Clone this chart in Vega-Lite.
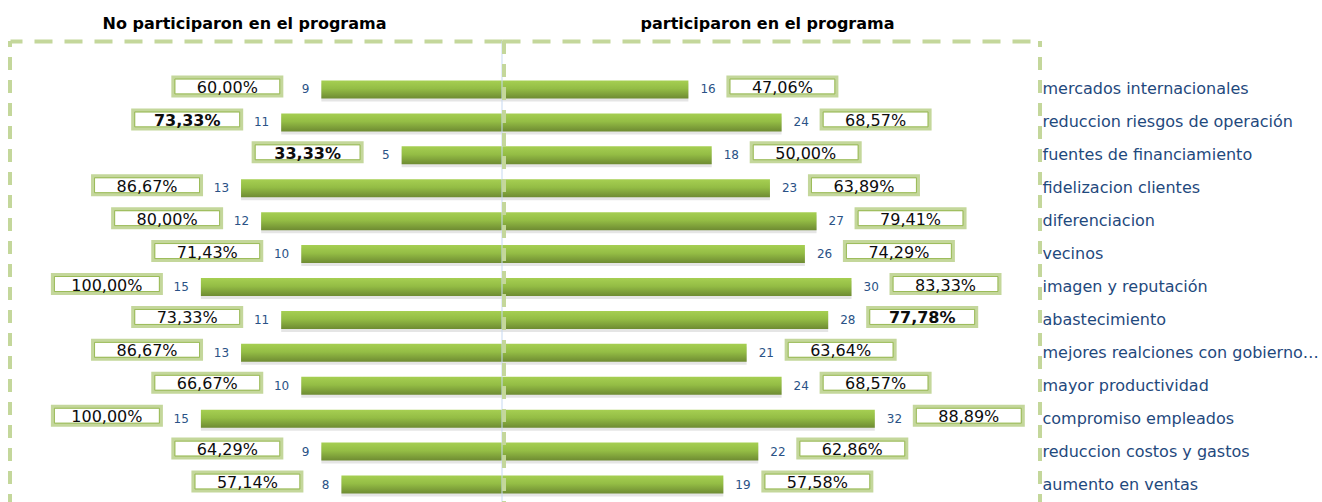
{
  "$schema": "https://vega.github.io/schema/vega-lite/v6.json",
  "width": 1030,
  "height": 461,
  "autosize": {"type": "none"},
  "padding": {"left": 10, "top": 41, "right": 282, "bottom": 0},
  "background": "white",
  "config": {
    "locale": {"number": {"decimal": ",", "thousands": ".", "grouping": [3], "currency": ["", " €"]}},
    "view": {"stroke": null},
    "axis": {"grid": false}
  },
  "data": {
    "values": [
      {"cat": "mercados internacionales", "no": 9, "si": 16, "pno": 0.6, "psi": 0.4706},
      {"cat": "reduccion riesgos de operación", "no": 11, "si": 24, "pno": 0.7333, "psi": 0.6857},
      {"cat": "fuentes de financiamiento", "no": 5, "si": 18, "pno": 0.3333, "psi": 0.5},
      {"cat": "fidelizacion clientes", "no": 13, "si": 23, "pno": 0.8667, "psi": 0.6389},
      {"cat": "diferenciacion", "no": 12, "si": 27, "pno": 0.8, "psi": 0.7941},
      {"cat": "vecinos", "no": 10, "si": 26, "pno": 0.7143, "psi": 0.7429},
      {"cat": "imagen y reputación", "no": 15, "si": 30, "pno": 1, "psi": 0.8333},
      {"cat": "abastecimiento", "no": 11, "si": 28, "pno": 0.7333, "psi": 0.7778},
      {"cat": "mejores realciones con gobierno…", "no": 13, "si": 21, "pno": 0.8667, "psi": 0.6364},
      {"cat": "mayor productividad", "no": 10, "si": 24, "pno": 0.6667, "psi": 0.6857},
      {"cat": "compromiso empleados", "no": 15, "si": 32, "pno": 1, "psi": 0.8889},
      {"cat": "reduccion costos y gastos", "no": 9, "si": 22, "pno": 0.6429, "psi": 0.6286},
      {"cat": "aumento en ventas", "no": 8, "si": 19, "pno": 0.5714, "psi": 0.5758}
    ]
  },
  "layer": [
    {
      "encoding": {
        "x": {
          "field": "no", "type": "quantitative",
          "scale": {"domain": [0, 24.51], "range": [492, 0], "nice": false},
          "axis": {"orient": "top", "title": "No participaron en el programa", "labels": false, "ticks": false, "grid": false,
                   "domain": true, "domainColor": "#c4d79b", "domainWidth": 4, "domainDash": [18, 12],
                   "titleFont": "DejaVu Sans", "titleFontSize": 16, "titleFontWeight": "bold", "titleColor": "#000000", "titlePadding": 10, "titleX": 234}
        }
      },
      "layer": [
        {
          "data": {"values": [{"no": 24.51}]},
          "mark": {"type": "rule", "color": "#c4d79b", "strokeWidth": 4, "strokeDash": [13, 10], "strokeDashOffset": 7}
        },
        {
          "encoding": {
            "y": {
              "field": "cat", "type": "nominal", "sort": null,
              "scale": {"range": [32, 460], "paddingInner": 0, "paddingOuter": 0},
              "axis": {"orient": "right", "title": null, "domain": false, "ticks": false, "tickSize": 0, "labelPadding": 2,
                       "labelFont": "DejaVu Sans", "labelFontSize": 16, "labelColor": "#1f497d", "labelLimit": 400, "labelAlign": "left", "labelBaseline": "middle"}
            }
          },
          "layer": [
            {"mark": {"type": "bar", "size": 18, "color": "#000000", "opacity": 0.1, "yOffset": 3}},
            {"mark": {"type": "bar", "size": 18, "color": {"gradient": "linear", "x1": 0, "y1": 0, "x2": 0, "y2": 1,
              "stops": [{"offset": 0, "color": "#a6cf52"}, {"offset": 0.45, "color": "#94bd45"}, {"offset": 1, "color": "#6e8b32"}]}}},
            {"mark": {"type": "bar", "size": 18, "fill": "#ffffff", "stroke": "#c4d79b", "strokeWidth": 4, "xOffset": -148, "x2Offset": -40, "yOffset": -3},
             "encoding": {"x2": {"field": "no"}}},
            {"mark": {"type": "bar", "size": 15, "fill": "#ffffff", "fillOpacity": 0, "stroke": "#9bbb59", "strokeWidth": 1, "xOffset": -146.5, "x2Offset": -41.5, "yOffset": -3},
             "encoding": {"x2": {"field": "no"}}},
            {"transform": [{"filter": "datum.cat !== 'reduccion riesgos de operación' && datum.cat !== 'fuentes de financiamiento'"}],
             "mark": {"type": "text", "font": "DejaVu Sans", "fontSize": 16, "color": "#0d0d0d", "dx": -94, "dy": -1.5, "align": "center", "baseline": "middle"},
             "encoding": {"text": {"field": "pno", "type": "quantitative", "format": ".2%"}}},
            {"transform": [{"filter": "datum.cat === 'reduccion riesgos de operación' || datum.cat === 'fuentes de financiamiento'"}],
             "mark": {"type": "text", "font": "DejaVu Sans", "fontSize": 16, "fontWeight": "bold", "color": "#0d0d0d", "dx": -94, "dy": -1.5, "align": "center", "baseline": "middle"},
             "encoding": {"text": {"field": "pno", "type": "quantitative", "format": ".2%"}}},
            {"mark": {"type": "text", "font": "DejaVu Sans", "fontSize": 12, "color": "#2a5286", "dx": -12, "align": "right", "baseline": "middle"},
             "encoding": {"text": {"field": "no", "type": "quantitative"}}}
          ]
        }
      ]
    },
    {
      "encoding": {
        "x": {
          "field": "si", "type": "quantitative",
          "scale": {"domain": [0, 46.18], "range": [492, 1030], "nice": false},
          "axis": {"orient": "top", "title": "participaron en el programa", "labels": false, "ticks": false, "grid": false,
                   "domain": true, "domainColor": "#c4d79b", "domainWidth": 4, "domainDash": [18, 12],
                   "titleFont": "DejaVu Sans", "titleFontSize": 16, "titleFontWeight": "bold", "titleColor": "#000000", "titlePadding": 10, "titleX": 757}
        }
      },
      "layer": [
        {
          "encoding": {
            "y": {
              "field": "cat", "type": "nominal", "sort": null,
              "scale": {"range": [32, 460], "paddingInner": 0, "paddingOuter": 0},
              "axis": {"orient": "right", "title": null, "domain": false, "ticks": false, "tickSize": 0, "labelPadding": 2,
                       "labelFont": "DejaVu Sans", "labelFontSize": 16, "labelColor": "#1f497d", "labelLimit": 400, "labelAlign": "left", "labelBaseline": "middle"}
            }
          },
          "layer": [
            {"mark": {"type": "bar", "size": 18, "color": "#000000", "opacity": 0.1, "yOffset": 3}},
            {"mark": {"type": "bar", "size": 18, "color": {"gradient": "linear", "x1": 0, "y1": 0, "x2": 0, "y2": 1,
              "stops": [{"offset": 0, "color": "#a6cf52"}, {"offset": 0.45, "color": "#94bd45"}, {"offset": 1, "color": "#6e8b32"}]}}},
            {"mark": {"type": "bar", "size": 18, "fill": "#ffffff", "stroke": "#c4d79b", "strokeWidth": 4, "xOffset": 40, "x2Offset": 148, "yOffset": -3},
             "encoding": {"x2": {"field": "si"}}},
            {"mark": {"type": "bar", "size": 15, "fill": "#ffffff", "fillOpacity": 0, "stroke": "#9bbb59", "strokeWidth": 1, "xOffset": 41.5, "x2Offset": 146.5, "yOffset": -3},
             "encoding": {"x2": {"field": "si"}}},
            {"transform": [{"filter": "datum.cat !== 'abastecimiento'"}],
             "mark": {"type": "text", "font": "DejaVu Sans", "fontSize": 16, "color": "#0d0d0d", "dx": 94, "dy": -1.5, "align": "center", "baseline": "middle"},
             "encoding": {"text": {"field": "psi", "type": "quantitative", "format": ".2%"}}},
            {"transform": [{"filter": "datum.cat === 'abastecimiento'"}],
             "mark": {"type": "text", "font": "DejaVu Sans", "fontSize": 16, "fontWeight": "bold", "color": "#0d0d0d", "dx": 94, "dy": -1.5, "align": "center", "baseline": "middle"},
             "encoding": {"text": {"field": "psi", "type": "quantitative", "format": ".2%"}}},
            {"mark": {"type": "text", "font": "DejaVu Sans", "fontSize": 12, "color": "#2a5286", "dx": 12, "align": "left", "baseline": "middle"},
             "encoding": {"text": {"field": "si", "type": "quantitative"}}}
          ]
        },
        {
          "data": {"values": [{"si": 0}]},
          "mark": {"type": "rule", "color": "#c6d9f1", "strokeWidth": 1}
        },
        {
          "data": {"values": [{"si": 0}]},
          "mark": {"type": "rule", "color": "#c4d79b", "strokeWidth": 4, "strokeDash": [13, 10], "xOffset": 2}
        },
        {
          "data": {"values": [{"si": 46.18}]},
          "mark": {"type": "rule", "color": "#c4d79b", "strokeWidth": 4, "strokeDash": [13, 10], "strokeDashOffset": 7}
        }
      ]
    }
  ],
  "resolve": {"scale": {"x": "independent"}, "axis": {"x": "independent"}}
}
